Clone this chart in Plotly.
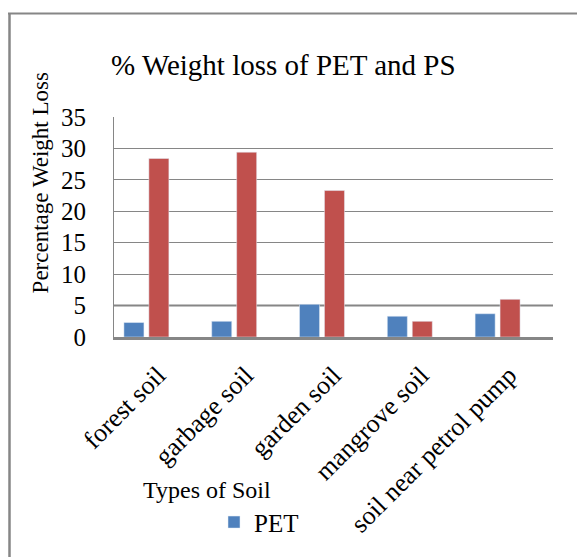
import plotly.graph_objects as go

categories = ["forest soil", "garbage soil", "garden soil", "mangrove soil", "soil near petrol pump"]
pet_values = [2.3, 2.5, 5.2, 3.3, 3.7]
ps_values = [28.4, 29.4, 23.3, 2.5, 6.0]
y_ticks = [0, 5, 10, 15, 20, 25, 30, 35]

FONT = "Liberation Serif, Times New Roman, serif"
GRID = "#868686"

fig = go.Figure()
fig.add_trace(go.Bar(x=categories, y=pet_values, name="PET", marker_color="#4F81BD",
                     width=0.228, offset=-0.387, showlegend=True))
fig.add_trace(go.Bar(x=categories, y=ps_values, name="PS", marker_color="#C0504D",
                     width=0.228, offset=-0.103, showlegend=False))

OFF = 8  # page body margin
W, H = 585 - OFF, 557 - OFF
L, T = 114 - OFF, 117 - OFF
R = W - (553 - OFF)
B = H - (339 - OFF)
pw, ph = W - L - R, H - T - B

def px(x):
    return (x - OFF - L) / pw

def py(y):
    return (H - B - (y - OFF)) / ph

fig.update_layout(
    width=W, height=H,
    margin=dict(l=L, r=R, t=T, b=B, pad=0),
    paper_bgcolor="white", plot_bgcolor="white",
    barmode="overlay",
    font=dict(family=FONT, color="black", size=24),
    xaxis=dict(showline=True, linecolor=GRID, linewidth=2.5, tickangle=-45,
               tickfont=dict(family=FONT, size=26, color="black"), showgrid=False, ticks="",
               ticklabelstandoff=10),
    yaxis=dict(range=[0, 35], tickvals=y_ticks, showgrid=True, gridcolor=GRID, gridwidth=1,
               showline=True, linecolor=GRID, linewidth=1, zeroline=False,
               tickfont=dict(family=FONT, size=25, color="black"), ticklabelstandoff=22),
    legend=dict(orientation="h", x=px(214), xanchor="left", y=py(526), yanchor="middle",
                font=dict(family=FONT, size=25, color="black"), bgcolor="rgba(0,0,0,0)"),
    showlegend=True,
)

fig.add_annotation(text="% Weight loss of PET and PS", xref="paper", yref="paper",
                   x=px(283), y=py(65), showarrow=False, xanchor="center", yanchor="middle",
                   font=dict(family=FONT, size=29, color="black"))
fig.add_annotation(text="Percentage Weight Loss", textangle=-90, xref="paper", yref="paper",
                   x=px(40), y=py(184), showarrow=False, xanchor="center", yanchor="middle",
                   font=dict(family=FONT, size=23, color="black"))
fig.add_annotation(text="Types of Soil", xref="paper", yref="paper",
                   x=px(207), y=py(493), showarrow=False, xanchor="center", yanchor="middle",
                   font=dict(family=FONT, size=24, color="black"))

# thicker gridline at 5
fig.add_shape(type="line", xref="paper", yref="y", x0=0, x1=1, y0=5, y1=5,
              line=dict(color=GRID, width=2), layer="below")
# outer chart border (top and left)
fig.add_shape(type="line", xref="paper", yref="paper", x0=px(8), x1=px(600), y0=py(12.5), y1=py(12.5),
              line=dict(color=GRID, width=2))
fig.add_shape(type="line", xref="paper", yref="paper", x0=px(9.5), x1=px(9.5), y0=py(12), y1=py(600),
              line=dict(color=GRID, width=2.5))

fig.write_html("out.html")
